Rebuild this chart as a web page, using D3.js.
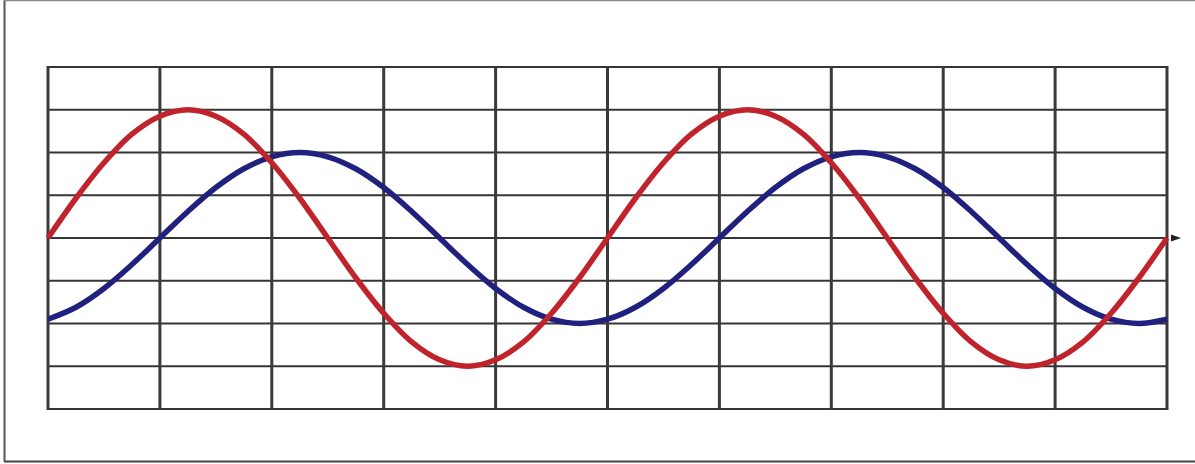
<!DOCTYPE html>
<html>
<head>
<meta charset="utf-8">
<script src="https://cdn.jsdelivr.net/npm/d3@7/dist/d3.min.js"></script>
<style>
  html, body { margin: 0; padding: 0; background: #fff; }
  svg { display: block; }
</style>
</head>
<body>
<svg id="chart" width="1195" height="464"></svg>
<script>
// Grid divisions (columns and rows of the graph paper)
const xTicks = [0, 1, 2, 3, 4, 5, 6, 7, 8, 9, 10];
const yTicks = [-4, -3, -2, -1, 0, 1, 2, 3, 4];

// Sample positions along x (in grid columns), every quarter column
const xPos = [0, 0.25, 0.5, 0.75, 1, 1.25, 1.5, 1.75, 2, 2.25, 2.5, 2.75, 3, 3.25, 3.5, 3.75, 4, 4.25, 4.5, 4.75,
              5, 5.25, 5.5, 5.75, 6, 6.25, 6.5, 6.75, 7, 7.25, 7.5, 7.75, 8, 8.25, 8.5, 8.75, 9, 9.25, 9.5, 9.75, 10];

// Red wave (in grid rows)
const redValues = [0, 0.93, 1.76, 2.43, 2.85, 3, 2.85, 2.43, 1.76, 0.93, 0, -0.93, -1.76, -2.43, -2.85, -3, -2.85, -2.43, -1.76, -0.93,
                   0, 0.93, 1.76, 2.43, 2.85, 3, 2.85, 2.43, 1.76, 0.93, 0, -0.93, -1.76, -2.43, -2.85, -3, -2.85, -2.43, -1.76, -0.93, 0];

// Blue wave (in grid rows)
const blueValues = [-1.9, -1.62, -1.18, -0.62, 0, 0.62, 1.18, 1.62, 1.9, 2, 1.9, 1.62, 1.18, 0.62, 0, -0.62, -1.18, -1.62, -1.9, -2,
                    -1.9, -1.62, -1.18, -0.62, 0, 0.62, 1.18, 1.62, 1.9, 2, 1.9, 1.62, 1.18, 0.62, 0, -0.62, -1.18, -1.62, -1.9, -2, -1.9];

const svg = d3.select("#chart");
const W = 1195, H = 464;

// Outer frame
const frame = svg.append("g");
frame.append("line").attr("x1", 4.5).attr("x2", 4.5).attr("y1", 0).attr("y2", 461.5)
  .attr("stroke", "#555").attr("stroke-width", 2);
frame.append("line").attr("x1", 4).attr("x2", W).attr("y1", 0.5).attr("y2", 0.5)
  .attr("stroke", "#888").attr("stroke-width", 1.5);
frame.append("line").attr("x1", 4).attr("x2", W).attr("y1", 461.5).attr("y2", 461.5)
  .attr("stroke", "#444").attr("stroke-width", 2);

const x = d3.scaleLinear().domain([0, 10]).range([48, 1167]);
const y = d3.scaleLinear().domain([-4, 4]).range([409, 67]);

const grid = svg.append("g");
grid.selectAll("line.h").data(yTicks).join("line")
  .attr("class", "h")
  .attr("x1", x(0)).attr("x2", x(10))
  .attr("y1", d => y(d)).attr("y2", d => y(d))
  .attr("stroke", "#353535").attr("stroke-width", 2);
grid.selectAll("line.v").data(xTicks).join("line")
  .attr("class", "v")
  .attr("x1", d => x(d)).attr("x2", d => x(d))
  .attr("y1", y(4) - 1).attr("y2", y(-4) + 1)
  .attr("stroke", "#3a3a3a").attr("stroke-width", 3);

const line = d3.line().x(d => x(d[0])).y(d => y(d[1])).curve(d3.curveCatmullRom);

const blueData = xPos.map((v, i) => [v, blueValues[i]]);
const redData = xPos.map((v, i) => [v, redValues[i]]);

svg.append("path").datum(blueData).attr("d", line)
  .attr("fill", "none").attr("stroke", "#20207f").attr("stroke-width", 5.5)
  .attr("stroke-linecap", "butt");

svg.append("path").datum(redData).attr("d", line)
  .attr("fill", "none").attr("stroke", "#c0232b").attr("stroke-width", 5.5)
  .attr("stroke-linecap", "butt");

// small arrow tip at the right end of the centre line
const ax = x(10), ay = y(0);
svg.append("path")
  .attr("d", d3.line()([[ax + 4, ay - 3.5], [ax + 14, ay], [ax + 4, ay + 3.5]]) + "Z")
  .attr("fill", "#222");
</script>
</body>
</html>
